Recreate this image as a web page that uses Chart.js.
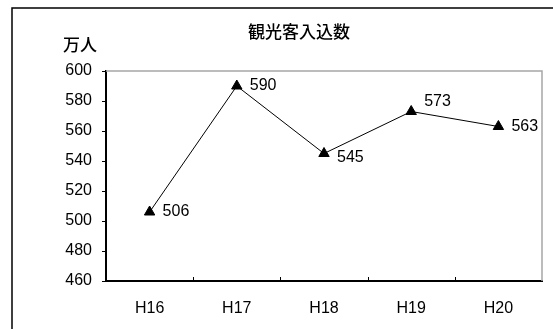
<!DOCTYPE html>
<html>
<head>
<meta charset="utf-8">
<script src="https://cdn.jsdelivr.net/npm/chart.js@4/dist/chart.umd.min.js"></script>
<style>
  html, body { margin: 0; padding: 0; background: #fff; }
  #wrap { width: 553px; height: 329px; }
</style>
</head>
<body>
<div id="wrap"><canvas id="chart" width="553" height="329"></canvas></div>
<script>
// chart data
const categories = ['H16', 'H17', 'H18', 'H19', 'H20'];
const visitors = [506, 590, 545, 573, 563];
const yTicks = [460, 480, 500, 520, 540, 560, 580, 600];
const chartTitle = '観光客入込数';
const unitLabel = '万人';

// small vertical nudges for the value labels (px)
const labelNudge = [0, 0, 4, -10, 0];

const CJK = '"Noto Sans CJK JP", sans-serif';
const LAT = '"Liberation Sans", Arial, sans-serif';

/**
 * Frame, title, unit label, plot border and inner x ticks
 */
const decorPlugin = {
  id: 'decor',
  beforeDraw(chart) {
    const ctx = chart.ctx;
    ctx.save();
    ctx.fillStyle = '#fff';
    ctx.fillRect(0, 0, chart.width, chart.height);
    // outer frame (cut off on the right and bottom)
    ctx.strokeStyle = '#000';
    ctx.lineWidth = 1.5;
    ctx.beginPath();
    ctx.moveTo(12, chart.height);
    ctx.lineTo(12, 8);
    ctx.lineTo(chart.width, 8);
    ctx.stroke();
    // title + unit
    ctx.fillStyle = '#000';
    ctx.textAlign = 'center';
    ctx.textBaseline = 'middle';
    ctx.font = '500 17px ' + CJK;
    ctx.fillText(chartTitle, 299, 32);
    ctx.fillText(unitLabel, 80, 45);
    ctx.restore();
  },
  afterDraw(chart) {
    const { ctx, chartArea: a } = chart;
    const x = chart.scales.x;
    ctx.save();
    // gray plot border top and right
    ctx.strokeStyle = '#a6a6a6';
    ctx.lineWidth = 1.5;
    ctx.beginPath();
    ctx.moveTo(a.left, a.top);
    ctx.lineTo(a.right, a.top);
    ctx.lineTo(a.right, a.bottom);
    ctx.stroke();
    // category boundary ticks pointing up
    ctx.strokeStyle = '#000';
    ctx.lineWidth = 1;
    for (let i = 1; i < categories.length; i++) {
      const bx = Math.round((x.getPixelForTick(i - 1) + x.getPixelForTick(i)) / 2) + 0.5;
      ctx.beginPath();
      ctx.moveTo(bx, a.bottom);
      ctx.lineTo(bx, a.bottom - 4);
      ctx.stroke();
    }
    ctx.restore();
  },
  afterDatasetsDraw(chart) {
    const ctx = chart.ctx;
    const meta = chart.getDatasetMeta(0);
    ctx.save();
    ctx.fillStyle = '#000';
    ctx.font = '16px ' + LAT;
    ctx.textAlign = 'left';
    ctx.textBaseline = 'middle';
    meta.data.forEach((pt, i) => {
      ctx.fillText(String(visitors[i]), pt.x + 13, pt.y + labelNudge[i]);
    });
    ctx.restore();
  }
};

new Chart(document.getElementById('chart'), {
  type: 'line',
  data: {
    labels: categories,
    datasets: [{
      data: visitors,
      borderColor: '#000',
      borderWidth: 1,
      pointStyle: 'triangle',
      pointRadius: 6,
      pointBorderWidth: 1,
      pointBackgroundColor: '#000',
      pointBorderColor: '#000',
      tension: 0
    }]
  },
  options: {
    responsive: false,
    animation: false,
    devicePixelRatio: 1,
    layout: { padding: { top: 71, right: 11, bottom: 0, left: 0 } },
    plugins: {
      legend: { display: false },
      title: { display: false },
      tooltip: { enabled: false }
    },
    scales: {
      x: {
        type: 'category',
        offset: true,
        grid: { display: false, drawTicks: false },
        border: { display: true, color: '#000', width: 2 },
        ticks: { color: '#000', font: { family: LAT, size: 16 }, padding: 18 },
        afterFit(scale) { scale.height = 48; }
      },
      y: {
        min: 460,
        max: 600,
        afterBuildTicks(scale) { scale.ticks = yTicks.map(v => ({ value: v })); },
        grid: { drawOnChartArea: false, drawTicks: true, tickLength: 4, color: '#000' },
        border: { display: true, color: '#000', width: 2 },
        ticks: { color: '#000', font: { family: LAT, size: 16 }, padding: 10 },
        afterFit(scale) { scale.width = 106; }
      }
    }
  },
  plugins: [decorPlugin]
});
</script>
</body>
</html>
